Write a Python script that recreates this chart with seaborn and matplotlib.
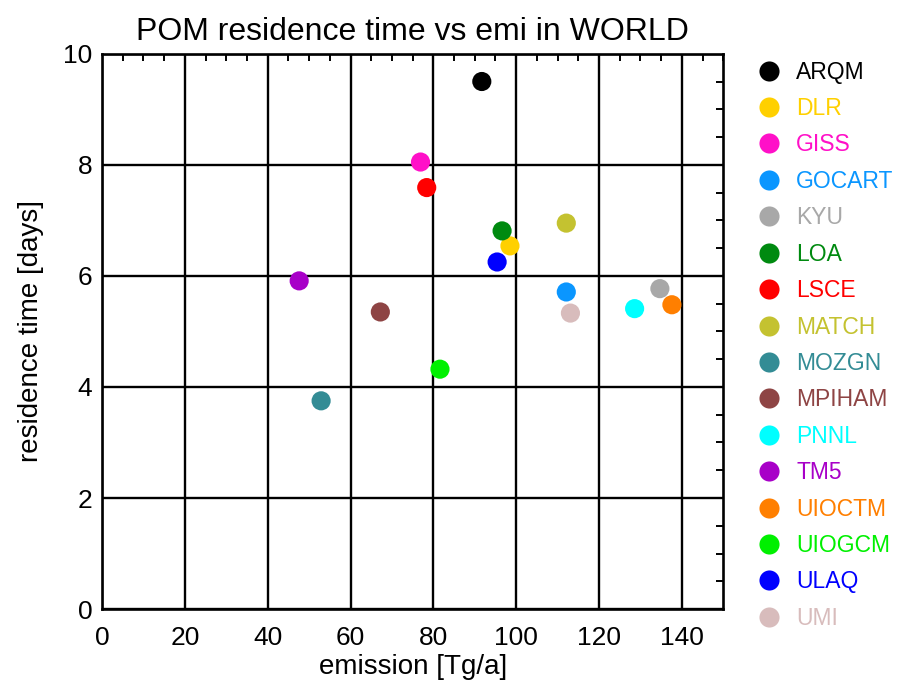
import matplotlib
matplotlib.use("Agg")
import matplotlib.pyplot as plt
from matplotlib.ticker import MultipleLocator
import seaborn as sns
import pandas as pd

models = ["ARQM", "DLR", "GISS", "GOCART", "KYU", "LOA", "LSCE", "MATCH",
          "MOZGN", "MPIHAM", "PNNL", "TM5", "UIOCTM", "UIOGCM", "ULAQ", "UMI"]
emission = [91.7, 98.5, 76.9, 112.1, 134.7, 96.6, 78.4, 112.1,
            52.9, 67.2, 128.6, 47.6, 137.6, 81.6, 95.4, 113.1]
residence = [9.50, 6.54, 8.05, 5.71, 5.77, 6.81, 7.59, 6.95,
             3.75, 5.35, 5.41, 5.91, 5.48, 4.32, 6.25, 5.33]
colors = ["#000000", "#FFD000", "#FF10C8", "#0A96FF", "#A8A8A8", "#008A10",
          "#FF0000", "#C4C230", "#338C95", "#8E4444", "#00FFFF", "#A800C8",
          "#FF7F00", "#00F000", "#0000FF", "#D8BCBC"]

df = pd.DataFrame({"model": models, "emission": emission, "residence": residence})

sns.set_theme(style="white")
plt.rcParams["font.family"] = ["Liberation Sans", "DejaVu Sans"]
plt.rcParams["text.color"] = "black"
plt.rcParams["axes.labelcolor"] = "black"

fig = plt.figure(figsize=(8.99, 6.89), dpi=100)
ax = fig.add_axes([0.1135, 0.116, 0.691, 0.806])

sns.scatterplot(data=df, x="emission", y="residence", hue="model",
                hue_order=models, palette=colors, s=190, edgecolor="none",
                ax=ax, zorder=3)

ax.set_xlim(0, 150)
ax.set_ylim(0, 10)
ax.xaxis.set_major_locator(MultipleLocator(20))
ax.yaxis.set_major_locator(MultipleLocator(2))
ax.xaxis.set_minor_locator(MultipleLocator(5))
ax.yaxis.set_minor_locator(MultipleLocator(0.5))
ax.grid(True, which="major", color="black", linewidth=1.7)
ax.tick_params(which="both", direction="in", top=True, right=True,
               labelsize=19, colors="black")
ax.tick_params(axis="x", which="major", length=0, pad=12)
ax.tick_params(axis="y", which="major", length=0, pad=7)
ax.tick_params(which="minor", length=5, width=1.4)
for sp in ax.spines.values():
    sp.set_color("black")
    sp.set_linewidth(1.9)

ax.set_title("POM residence time vs emi in WORLD", fontsize=23, pad=10)
ax.set_xlabel("emission [Tg/a]", fontsize=20, labelpad=3)
ax.set_ylabel("residence time [days]", fontsize=20, labelpad=14)

handles, labels = ax.get_legend_handles_labels()
ax.legend(handles, labels, loc="upper left", bbox_to_anchor=(1.031, 1.004),
          frameon=False, fontsize=16.5, labelcolor="markerfacecolor",
          labelspacing=0.585, handlelength=1.5, handletextpad=0.45,
          borderaxespad=0.0, markerscale=1.05)

fig.savefig("out.png", dpi=100)
